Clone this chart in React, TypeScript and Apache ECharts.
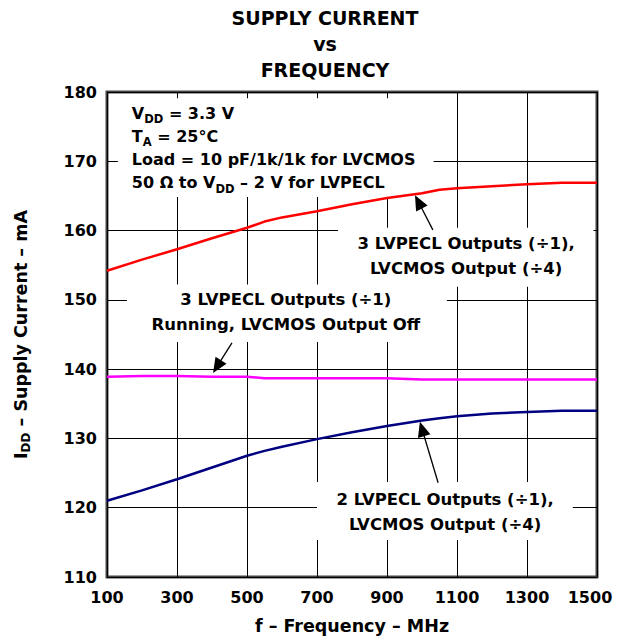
import React, { useEffect, useRef } from 'react';
import * as echarts from 'echarts';

// ---- data ----
const FREQ_MHZ = [100, 200, 300, 400, 500, 550, 600, 700, 800, 900, 1000, 1050, 1100, 1200, 1300, 1400, 1500];
const IDD_3PECL_CMOS = [154.2, 155.8, 157.3, 158.9, 160.4, 161.3, 161.9, 162.8, 163.8, 164.7, 165.4, 165.9, 166.1, 166.4, 166.7, 166.9, 166.9];
const IDD_3PECL_OFF = [138.9, 139.0, 139.0, 138.9, 138.9, 138.7, 138.7, 138.7, 138.7, 138.7, 138.5, 138.5, 138.5, 138.5, 138.5, 138.5, 138.5];
const IDD_2PECL_CMOS = [121.0, 122.5, 124.1, 125.8, 127.5, 128.2, 128.8, 129.9, 130.9, 131.8, 132.6, 132.9, 133.2, 133.6, 133.8, 134.0, 134.0];
const X_TICK_LABELS = ['100', '300', '500', '700', '900', '1100', '1300', '1500'];
const Y_TICK_LABELS = ['110', '120', '130', '140', '150', '160', '170', '180'];

const X_MIN = 100;
const X_MAX = 1500;
const X_STEP = 200;
const Y_MIN = 110;
const Y_MAX = 180;
const Y_STEP = 10;

const TITLE = 'SUPPLY CURRENT\nvs\nFREQUENCY';
const CONDITIONS = 'V{sub|DD} = 3.3 V\nT{sub|A} = 25°C\nLoad = 10 pF/1k/1k for LVCMOS\n50 Ω to V{sub|DD} – 2 V for LVPECL';
const LABEL_3PECL_CMOS = '3 LVPECL Outputs (÷1),\nLVCMOS Output (÷4)';
const LABEL_3PECL_OFF = '3 LVPECL Outputs (÷1)\nRunning, LVCMOS Output Off';
const LABEL_2PECL_CMOS = '2 LVPECL Outputs (÷1),\nLVCMOS Output (÷4)';

const FONT = '"DejaVu Sans", sans-serif';

export default function App() {
  const ref = useRef<HTMLDivElement>(null);
  useEffect(() => {
    if (!ref.current) return;
    const chart = echarts.init(ref.current, null, { renderer: 'svg' });
    const toData = (f: number, v: number) => [f - X_MIN, v];
    const mkSeries = (vals: number[], color: string) => ({
      type: 'line',
      data: FREQ_MHZ.map((f, i) => toData(f, vals[i])),
      showSymbol: false,
      symbol: 'none',
      smooth: false,
      lineStyle: { color, width: 2.5 },
      z: 5,
      silent: true,
    });
    const boldText = (size: number) => ({ fontFamily: FONT, fontWeight: 'bold' as const, fontSize: size, color: '#000' });
    chart.setOption({
      animation: false,
      grid: { left: 107, right: 20, top: 92, bottom: 66, show: true, borderColor: '#444', borderWidth: 3 },
      xAxis: {
        type: 'value',
        min: 0,
        max: X_MAX - X_MIN,
        interval: X_STEP,
        axisLine: { show: false },
        axisTick: { show: false },
        splitLine: { show: true, lineStyle: { color: '#000', width: 1 } },
        axisLabel: {
          ...boldText(16),
          margin: 12,
          formatter: (_v: number, i: number) =>
            i === X_TICK_LABELS.length - 1 ? `{r|${X_TICK_LABELS[i]}}` : X_TICK_LABELS[i],
          rich: { r: { ...boldText(16), padding: [0, 14, 0, 0] } },
        },
        name: 'f – Frequency – MHz',
        nameLocation: 'middle',
        nameGap: 40,
        nameTextStyle: boldText(17.5),
      },
      yAxis: {
        type: 'value',
        min: Y_MIN,
        max: Y_MAX,
        interval: Y_STEP,
        axisLine: { show: false },
        axisTick: { show: false },
        splitLine: { show: true, lineStyle: { color: '#000', width: 1 } },
        axisLabel: {
          ...boldText(16),
          margin: 10,
          formatter: (_v: number, i: number) => Y_TICK_LABELS[i],
        },
        name: '{n|I}{s|DD}{n| – Supply Current – mA}',
        nameLocation: 'middle',
        nameRotate: 90,
        nameGap: 75,
        nameTextStyle: {
          ...boldText(17.5),
          rich: {
            n: { ...boldText(17.5), lineHeight: 22 },
            s: { ...boldText(12), lineHeight: 14, verticalAlign: 'bottom' },
          },
        },
      },
      series: [
        mkSeries(IDD_3PECL_CMOS, '#ff0000'),
        mkSeries(IDD_3PECL_OFF, '#ff00ff'),
        mkSeries(IDD_2PECL_CMOS, '#000080'),
      ],
    });

    const px = (f: number, v: number) => chart.convertToPixel({ gridIndex: 0 }, toData(f, v)) as number[];
    const whiteBox = (f0: number, v0: number, f1: number, v1: number) => {
      const a = px(f0, v1);
      const b = px(f1, v0);
      return {
        type: 'rect',
        z: 1,
        silent: true,
        shape: { x: a[0], y: a[1], width: b[0] - a[0], height: b[1] - a[1] },
        style: { fill: '#fff' },
      };
    };
    const label = (text: string, f: number, v: number) => {
      const p = px(f, v);
      return {
        type: 'text',
        z: 6,
        silent: true,
        x: p[0],
        y: p[1],
        style: {
          text,
          fill: '#000',
          font: `bold 16.5px ${FONT}`,
          align: 'center',
          verticalAlign: 'middle',
          lineHeight: 25,
        },
      };
    };
    const arrow = (fTail: number, vTail: number, fTip: number, vTip: number) => {
      const t = px(fTail, vTail);
      const p = px(fTip, vTip);
      const dx = p[0] - t[0];
      const dy = p[1] - t[1];
      const len = Math.hypot(dx, dy);
      const ux = dx / len;
      const uy = dy / len;
      const headLen = 15;
      const halfW = 6.5;
      const bx = p[0] - ux * headLen;
      const by = p[1] - uy * headLen;
      return [
        {
          type: 'line',
          z: 7,
          silent: true,
          shape: { x1: t[0], y1: t[1], x2: bx + ux * 2, y2: by + uy * 2 },
          style: { stroke: '#000', lineWidth: 1.3 },
        },
        {
          type: 'polygon',
          z: 7,
          silent: true,
          shape: {
            points: [
              [p[0], p[1]],
              [bx - uy * halfW, by + ux * halfW],
              [bx + uy * halfW, by - ux * halfW],
            ],
          },
          style: { fill: '#000' },
        },
      ];
    };
    const cond = px(171, 171.92);

    chart.setOption({
      graphic: [
        {
          type: 'text',
          silent: true,
          x: 325,
          y: 5,
          style: {
            text: TITLE,
            fill: '#000',
            font: `bold 19px ${FONT}`,
            align: 'center',
            verticalAlign: 'top',
            lineHeight: 26,
          },
        },
        whiteBox(131, 164.85, 1033, 179.1),
        whiteBox(760, 151.9, 1490, 160.4),
        whiteBox(157, 143.9, 1071, 152.2),
        whiteBox(700, 115.35, 1431, 123.7),
        {
          type: 'text',
          z: 6,
          silent: true,
          x: cond[0],
          y: cond[1],
          style: {
            text: CONDITIONS,
            fill: '#000',
            font: `bold 16px ${FONT}`,
            align: 'left',
            verticalAlign: 'middle',
            lineHeight: 23.3,
            rich: {
              sub: { fill: '#000', font: `bold 11.5px ${FONT}`, lineHeight: 14, verticalAlign: 'bottom' },
            },
          },
        },
        label(LABEL_3PECL_CMOS, 1126, 156.4),
        label(LABEL_3PECL_OFF, 611, 148.3),
        label(LABEL_2PECL_CMOS, 1066, 119.45),
        ...arrow(1031, 160.1, 980, 165.1),
        ...arrow(457, 143.8, 403, 139.45),
        ...arrow(1046, 123.6, 994, 132.4),
      ],
    });

    return () => chart.dispose();
  }, []);
  return <div ref={ref} style={{ position: 'absolute', left: 0, top: 0, width: 617, height: 643, background: '#fff' }} />;
}
